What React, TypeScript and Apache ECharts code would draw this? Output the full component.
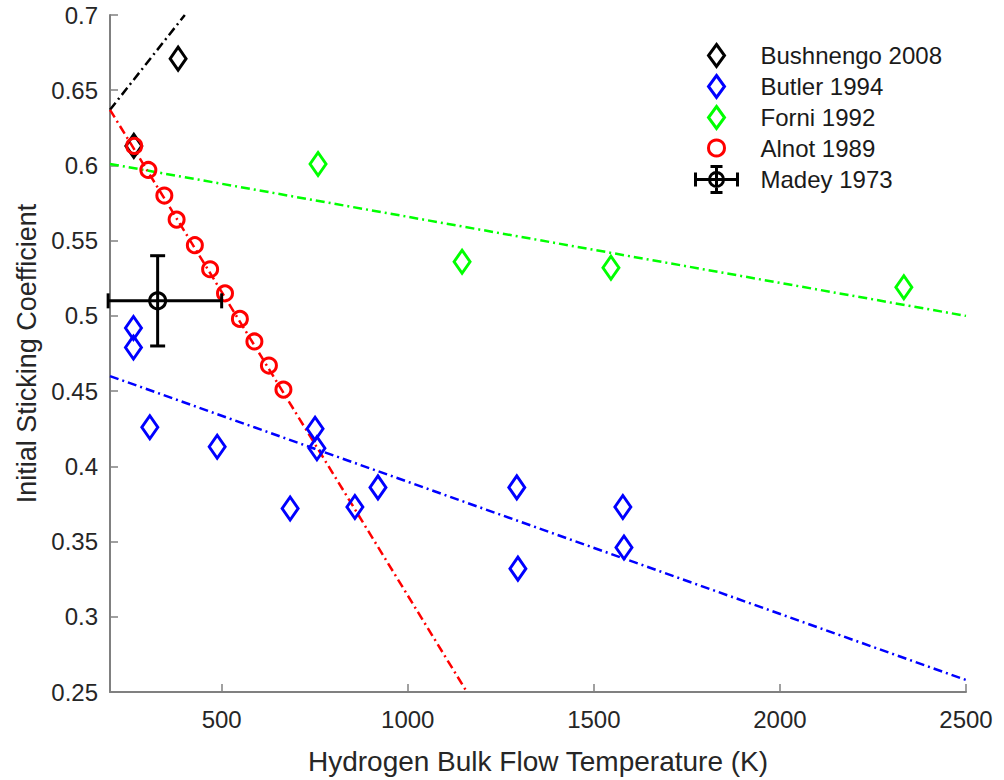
import React, { useEffect, useRef } from "react";
import * as echarts from "echarts";

const xTickValues = [500, 1000, 1500, 2000, 2500];

const bushnengoX = [264, 383];
const bushnengoY = [0.613, 0.671];
const butlerX = [263, 263, 307, 488, 684, 751, 756, 858, 920, 1293, 1296, 1578, 1581];
const butlerY = [0.492, 0.479, 0.426, 0.413, 0.372, 0.425, 0.412, 0.373, 0.386, 0.386, 0.332, 0.373, 0.346];
const forniX = [759, 1146, 1546, 2333];
const forniY = [0.601, 0.536, 0.532, 0.519];
const alnotX = [265, 303, 346, 379, 428, 469, 509, 549, 588, 627, 666];
const alnotY = [0.613, 0.597, 0.58, 0.564, 0.547, 0.531, 0.515, 0.498, 0.483, 0.467, 0.451];
const madeyX = [328];
const madeyY = [0.51];
const madeyXLow = [195];
const madeyXHigh = [500];
const madeyYLow = [0.48];
const madeyYHigh = [0.54];

const bushFitX = [200, 401];
const bushFitY = [0.637, 0.7];
const alnotFitX = [200, 1159];
const alnotFitY = [0.637, 0.25];
const forniFitX = [200, 2500];
const forniFitY = [0.601, 0.5];
const butlerFitX = [200, 2500];
const butlerFitY = [0.46, 0.258];

const FONT = "Arial, 'Liberation Sans', sans-serif";
const zip = (xs: number[], ys: number[]) => xs.map((x, i) => [x, ys[i]]);

const dashDot = [9, 4, 2, 4];

function fitLine(name: string, xs: number[], ys: number[], color: string) {
  return {
    name,
    type: "line",
    data: zip(xs, ys),
    symbol: "none",
    lineStyle: { color, width: 2.5, type: dashDot },
    z: 1,
    silent: true,
  };
}

function scatter(name: string, xs: number[], ys: number[], color: string, symbol: string, size: any) {
  return {
    name,
    type: "scatter",
    data: zip(xs, ys),
    symbol,
    symbolSize: size,
    itemStyle: { color: "rgba(255,255,255,0)", borderColor: color, borderWidth: 3, opacity: 1 },
    z: 3,
  };
}

const MADEY_ICON =
  "path://M0,15 L44,15 M1,8 L1,22 M43,8 L43,22 M22,2 L22,28 M16,2 L28,2 M16,28 L28,28 M29,15 A7,7 0 1,1 15,15 A7,7 0 1,1 29,15";

const legendNames = ["Bushnengo 2008", "Butler 1994", "Forni 1992", "Alnot 1989", "Madey 1973"];
const legendTops = [55, 86, 117, 148, 180];

export default function App() {
  const ref = useRef<HTMLDivElement>(null);
  useEffect(() => {
    const chart = echarts.init(ref.current!, null, { renderer: "svg" });
    const legends = legendNames.map((n, i) => {
      const isMadey = n === "Madey 1973";
      const w = isMadey ? 44 : 16;
      const h = isMadey ? 30 : i === 3 ? 16 : 22;
      const boxH = isMadey ? 30 : 24;
      return {
        data: [
          isMadey
            ? { name: n, icon: MADEY_ICON, itemStyle: { color: "rgba(0,0,0,0)", borderColor: "#000", borderWidth: 3, opacity: 1 } }
            : { name: n },
        ],
        left: 715 - w / 2,
        top: legendTops[i] - boxH / 2,
        itemWidth: w,
        itemHeight: h,
        itemGap: 0,
        padding: 0,
        selectedMode: false,
        itemStyle: { borderWidth: 3 },
        textStyle: {
          fontFamily: FONT,
          fontSize: 24,
          color: "#1a1a1a",
          padding: [0, 0, 0, isMadey ? 17 : 31],
        },
      };
    });

    chart.setOption({
      animation: false,
      backgroundColor: "#fff",
      grid: { left: 110, right: 38, top: 15, bottom: 88, containLabel: false },
      legend: legends,
      xAxis: {
        type: "value",
        min: 200,
        max: 2500,
        name: "Hydrogen Bulk Flow Temperature (K)",
        nameLocation: "middle",
        nameGap: 55,
        nameTextStyle: { fontFamily: FONT, fontSize: 28, color: "#262626" },
        axisLine: { show: true, lineStyle: { color: "#808080", width: 2 } },
        axisTick: { show: true, inside: true, length: 8, customValues: xTickValues, lineStyle: { color: "#808080", width: 1.5 } },
        axisLabel: {
          customValues: xTickValues,
          fontFamily: FONT,
          fontSize: 24,
          color: "#262626",
          margin: 15,
          formatter: (v: number) => String(v),
        },
        splitLine: { show: false },
      },
      yAxis: {
        type: "value",
        min: 0.25,
        max: 0.7,
        interval: 0.05,
        name: "Initial Sticking Coefficient",
        nameLocation: "middle",
        nameGap: 60,
        nameTextStyle: { fontFamily: FONT, fontSize: 27, color: "#262626" },
        axisLine: { show: true, lineStyle: { color: "#808080", width: 2 } },
        axisTick: { show: true, inside: true, length: 8, lineStyle: { color: "#808080", width: 1.5 } },
        axisLabel: {
          fontFamily: FONT,
          fontSize: 24,
          color: "#262626",
          margin: 12,
          formatter: (v: number) => String(parseFloat(v.toFixed(2))),
        },
        splitLine: { show: false },
      },
      series: [
        fitLine("bushFit", bushFitX, bushFitY, "#000000"),
        fitLine("alnotFit", alnotFitX, alnotFitY, "#ff0000"),
        fitLine("forniFit", forniFitX, forniFitY, "#00ff00"),
        fitLine("butlerFit", butlerFitX, butlerFitY, "#0000ff"),
        scatter("Bushnengo 2008", bushnengoX, bushnengoY, "#000000", "diamond", [16, 23]),
        scatter("Butler 1994", butlerX, butlerY, "#0000ff", "diamond", [16, 23]),
        scatter("Forni 1992", forniX, forniY, "#00ff00", "diamond", [16, 23]),
        scatter("Alnot 1989", alnotX, alnotY, "#ff0000", "circle", 15),
        {
          name: "Madey 1973",
          type: "custom",
          z: 4,
          itemStyle: { color: "rgba(0,0,0,0)", borderColor: "#000", borderWidth: 3 },
          data: madeyX.map((x, i) => [x, madeyY[i], madeyXLow[i], madeyXHigh[i], madeyYLow[i], madeyYHigh[i]]),
          encode: { x: [0, 2, 3], y: [1, 4, 5] },
          renderItem: (params: any, api: any) => {
            const c = api.coord([api.value(0), api.value(1)]);
            const xl = api.coord([api.value(2), api.value(1)]);
            const xh = api.coord([api.value(3), api.value(1)]);
            const yl = api.coord([api.value(0), api.value(4)]);
            const yh = api.coord([api.value(0), api.value(5)]);
            const st = { stroke: "#000", lineWidth: 3, fill: "none" };
            const cap = 7.5;
            return {
              type: "group",
              children: [
                { type: "line", shape: { x1: xl[0], y1: c[1], x2: xh[0], y2: c[1] }, style: st },
                { type: "line", shape: { x1: xl[0], y1: c[1] - cap, x2: xl[0], y2: c[1] + cap }, style: st },
                { type: "line", shape: { x1: xh[0], y1: c[1] - cap, x2: xh[0], y2: c[1] + cap }, style: st },
                { type: "line", shape: { x1: c[0], y1: yl[1], x2: c[0], y2: yh[1] }, style: st },
                { type: "line", shape: { x1: c[0] - cap, y1: yl[1], x2: c[0] + cap, y2: yl[1] }, style: st },
                { type: "line", shape: { x1: c[0] - cap, y1: yh[1], x2: c[0] + cap, y2: yh[1] }, style: st },
                { type: "circle", shape: { cx: c[0], cy: c[1], r: 8 }, style: st },
              ],
            };
          },
        },
      ],
    });
    return () => chart.dispose();
  }, []);
  return <div ref={ref} style={{ width: 1004, height: 780, position: "fixed", left: 0, top: 0 }} />;
}
